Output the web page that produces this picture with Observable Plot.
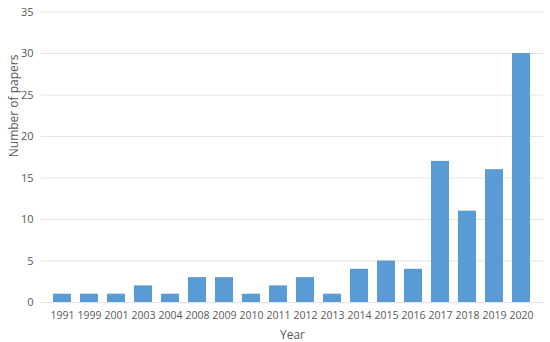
<!DOCTYPE html>
<html>
<head>
<meta charset="utf-8">
<script src="https://cdn.jsdelivr.net/npm/d3@7"></script>
<script src="https://cdn.jsdelivr.net/npm/@observablehq/plot@0.6"></script>
<style>
  html, body { margin: 0; padding: 0; background: #fff; }
  #chart svg { display: block; }
</style>
</head>
<body>
<div id="chart"></div>
<script>
const years = ["1991","1999","2001","2003","2004","2008","2009","2010","2011","2012","2013","2014","2015","2016","2017","2018","2019","2020"];
const papers = [1,1,1,2,1,3,3,1,2,3,1,4,5,4,17,11,16,30];
const yTicks = [0,5,10,15,20,25,30,35];

const data = years.map((y, i) => ({year: y, n: papers[i]}));

const chart = Plot.plot({
  width: 550,
  height: 342,
  marginLeft: 41,
  marginRight: 7,
  marginTop: 11.5,
  marginBottom: 40,
  style: {fontFamily: "'Open Sans', 'Noto Sans', sans-serif", fontSize: "10.5px", color: "#595959", background: "#fff"},
  x: {domain: years, padding: 0.32, label: null},
  y: {domain: [0, 35], ticks: yTicks, label: null},
  marks: [
    Plot.gridY(yTicks, {stroke: "#e4e4e4", strokeOpacity: 1, strokeWidth: 1}),
    Plot.barY(data, {x: "year", y: "n", fill: "#5B9BD5"}),
    Plot.axisY(yTicks, {tickSize: 0, tickPadding: 8, fill: "#595959", fontSize: 11}),
    Plot.axisX({tickSize: 0, tickPadding: 9, fill: "#595959", fontSize: 10.5}),
    Plot.text(["Year"], {frameAnchor: "bottom", dy: 36, fill: "#595959", fontSize: 12}),
    Plot.text(["Number of papers"], {frameAnchor: "left", dx: -27, rotate: -90, fill: "#595959", fontSize: 12})
  ]
});
document.getElementById("chart").appendChild(chart);
</script>
</body>
</html>
